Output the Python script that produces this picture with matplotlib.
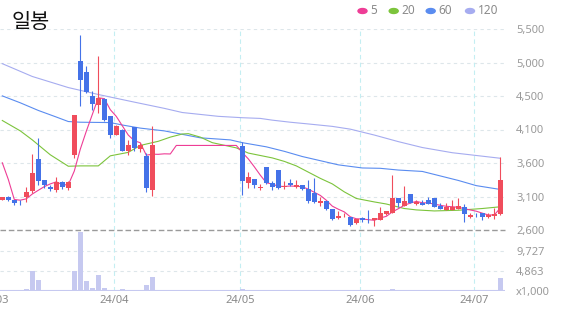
import matplotlib
matplotlib.use('Agg')
import matplotlib.pyplot as plt
import matplotlib.transforms as mtransforms
import numpy as np
import pandas as pd

plt.rcParams['font.family'] = ['Noto Sans', 'DejaVu Sans']

# daily candles, first one is 2024-03-05 (14 halted days in April)
opens = [3040, 3070, 3035, 3005, 3075, 3160, 3625, 3315, 3215, 3180,
         3295, 3205, 3680, 5035, 4880, 4530, 4410, 4490, 4240, 3975,
         4045, 3745, 4080, 3775, 3670, 3180] + [3820] * 14 + \
        [3810, 3280, 3335, 3210, 3510, 3275, 3465, 3215, 3280, 3215,
         3250, 3190, 3130, 2995, 3020, 2905, 2770, 2810, 2785, 2695,
         2770, 2760, 2745, 2745, 2825, 2850, 3055, 2945, 3115, 2970,
         2985, 3035, 3055, 2945, 2890, 2890, 2905, 2930, 2785, 2845,
         2840, 2785, 2805, 2830]
highs = [3080, 3085, 3040, 3035, 3215, 3700, 3925, 3320, 3245, 3360,
         3300, 3300, 4260, 5420, 4960, 4600, 5105, 4500, 4250, 4120,
         4055, 3905, 4090, 3855, 3710, 4095] + [3820] * 14 + \
        [3865, 3440, 3340, 3265, 3515, 3310, 3470, 3310, 3335, 3320,
         3255, 3320, 3355, 3080, 3025, 2910, 2875, 2850, 2790, 2765,
         2790, 2890, 2775, 2930, 2880, 3395, 3060, 3235, 3120, 3035,
         3035, 3070, 3060, 2985, 2985, 3035, 3055, 2975, 2850, 2850,
         2845, 2840, 2915, 3660]
lows = [3030, 3015, 2955, 2965, 3010, 3135, 3245, 3205, 3160, 3150,
        3185, 3175, 3640, 4390, 4580, 4335, 4290, 4170, 3925, 3965,
        3735, 3680, 3745, 3725, 3150, 3095] + [3820] * 14 + \
       [3105, 3200, 3200, 3175, 3265, 3175, 3195, 3185, 3235, 3210,
        3180, 2995, 2985, 2945, 2890, 2745, 2760, 2785, 2660, 2690,
        2720, 2695, 2660, 2740, 2820, 2845, 2935, 2940, 2990, 2965,
        2960, 2970, 2930, 2900, 2885, 2885, 2900, 2720, 2780, 2785,
        2745, 2770, 2755, 2815]
closes = [3075, 3040, 2990, 3000, 3145, 3420, 3310, 3255, 3195, 3295,
          3215, 3295, 4255, 4770, 4590, 4420, 4505, 4190, 3975, 4105,
          3745, 3830, 3785, 3830, 3205, 3820] + [3820] * 14 + \
         [3310, 3360, 3250, 3215, 3275, 3215, 3200, 3235, 3250, 3250,
          3185, 3025, 3010, 3025, 2900, 2760, 2805, 2815, 2670, 2760,
          2745, 2755, 2770, 2840, 2875, 3065, 2985, 3020, 2995, 3000,
          2965, 2975, 2935, 2905, 2930, 2930, 2945, 2825, 2815, 2840,
          2790, 2815, 2825, 3320]
# volume in thousands of shares
volumes = [150, 390, 390, 200, 630, 4860, 2680, 390, 200, 200,
           200, 200, 4860, 14420, 2430, 800, 4040, 800, 400, 200,
           630, 400, 400, 200, 1460, 3480] + [0] * 14 + \
          [630] + [150] * 24 + [630] + [150] * 17 + [3160]

ma5_head = [3570, 3330, 3040, 3030]
ma20_idx = [0, 3, 5, 8, 11, 13, 16, 18, 21, 23, 26, 28, 30, 31, 33, 35, 39, 41,
            43, 45, 47, 49, 51, 53, 55, 57, 59, 62, 64, 67, 69, 72, 76, 80, 83]
ma20_val = [4180, 4030, 3900, 3685, 3520, 3525, 3525, 3670, 3720, 3820, 3880,
            3940, 3985, 3990, 3940, 3860, 3785, 3710, 3675, 3640, 3590, 3525,
            3435, 3345, 3265, 3150, 3055, 3005, 2975, 2910, 2890, 2875, 2885,
            2910, 2935]
ma60_idx = [0, 3, 6, 9, 11, 13, 18, 20, 23, 27, 30, 33, 38, 40, 44, 47, 50, 54,
            56, 60, 63, 66, 70, 73, 76, 79, 83]
ma60_val = [4535, 4435, 4325, 4230, 4165, 4155, 4150, 4115, 4070, 4030, 3980,
            3930, 3900, 3860, 3800, 3735, 3660, 3580, 3540, 3495, 3490, 3465,
            3445, 3380, 3315, 3240, 3185]
ma120_idx = [0, 5, 11, 16, 22, 27, 30, 36, 40, 43, 45, 48, 51, 55, 58, 62, 66,
             70, 75, 79, 83]
ma120_val = [5000, 4815, 4655, 4555, 4445, 4355, 4295, 4240, 4220, 4210, 4185,
             4155, 4130, 4095, 4055, 3970, 3875, 3790, 3715, 3675, 3635]

month_start = [-1, 19, 40, 60, 79]
month_labels = ['24/03', '24/04', '24/05', '24/06', '24/07']
price_ticks = np.linspace(2600, 5500, 7)
price_labels = ['2,600', '3,100', '3,600', '4,100', '4,500', '5,000', '5,500']
vol_ticks = [0, 4863, 9727]
vol_labels = ['x1,000', '4,863', '9,727']

RED, BLUE = '#f04d5c', '#4472e8'
W, H = 573, 315


def box(l, t, r, b):
    return [l / W, 1 - b / H, (r - l) / W, (b - t) / H]


fig = plt.figure(figsize=(W / 100, H / 100), dpi=100)
ax = fig.add_axes(box(0, 29, 505, 230))
axv = fig.add_axes(box(0, 230.3, 505, 291.3), sharex=ax)

o, h, l, c = map(np.array, (opens, highs, lows, closes))
x = np.arange(len(c))
col = np.where(c >= o, RED, BLUE)

# grid
for t in price_ticks[1:]:
    ax.axhline(t, color='#dde6ea', lw=0.8, ls=(0, (3, 3)), zorder=0)
ax.axhline(2600, color='#9a9a9a', lw=1, ls=(0, (4, 2)), zorder=0, clip_on=False)
for t in vol_ticks[1:]:
    axv.axhline(t, color='#dde6ea', lw=0.8, ls=(0, (3, 3)), zorder=0)
for m in month_start[1:]:
    for a in (ax, axv):
        a.axvline(m - 0.33, color='#c4eef2', lw=0.8, ls=(0, (4, 3)), zorder=0)

# moving averages
ma5 = pd.Series(c, dtype=float).rolling(5).mean().to_numpy()
ma5[:4] = ma5_head
ax.plot(ma120_idx, ma120_val, color='#a6acf0', lw=0.8, zorder=1)
ax.plot(ma60_idx, ma60_val, color='#5a8cf0', lw=0.8, zorder=1)
ax.plot(ma20_idx, ma20_val, color='#7cc43c', lw=0.8, zorder=1)
ax.plot(x, ma5, color='#ee3d96', lw=0.8, zorder=1)

# candles
ax.vlines(x, l, h, color=col, lw=0.8, zorder=2)
body = np.maximum(np.abs(c - o), 10)
ax.bar(x, body, bottom=np.minimum(o, c), width=0.78, color=col, zorder=3)

# volume
axv.bar(x, volumes, width=0.78, color='#c6c9f0', zorder=2)
axv.axhline(0, color='#c6c9f0', lw=1.5, zorder=2)

ax.set_xlim(-0.383, 83.78)
ax.set_ylim(2600, 5500)
axv.set_ylim(0, 14832)

ax.yaxis.tick_right()
ax.set_yticks(price_ticks, price_labels)
axv.yaxis.tick_right()
axv.set_yticks(vol_ticks, vol_labels)
for a in (ax, axv):
    a.tick_params(axis='y', length=0, pad=8, labelsize=8, labelcolor='#9a9a9a')
    a.tick_params(axis='x', length=0, labelbottom=False)
    for s in a.spines.values():
        s.set_visible(False)
    a.patch.set_alpha(0)

# month labels; the March one is cut by the left edge as in the original
trans = mtransforms.blended_transform_factory(axv.transData, axv.transAxes)
for m, lab in zip(month_start, month_labels):
    axv.text(m - 0.33, -0.143, lab, transform=trans, ha='center', va='center',
             fontsize=8, color='#8a8a8a', clip_on=False)

# title and legend
fig.text(12 / W, 1 - 22 / H, '일봉', fontsize=15, color='#111111',
         family=['Noto Sans CJK KR', 'DejaVu Sans'], va='center', ha='left')
leg = [('5', '#ee3d96', 362.5), ('20', '#7cc43c', 393.7),
       ('60', '#5a8cf0', 430.7), ('120', '#a6acf0', 470)]
for lab, cc, px in leg:
    fig.patches.append(plt.Circle((px / W, 1 - 11 / H), 4.5 / W, color=cc,
                                  transform=fig.transFigure))
    fig.text((px + 8) / W, 1 - 11 / H, lab, fontsize=8.5, color='#8a8a8a',
             va='center', ha='left')

fig.savefig('out.png', dpi=100)
